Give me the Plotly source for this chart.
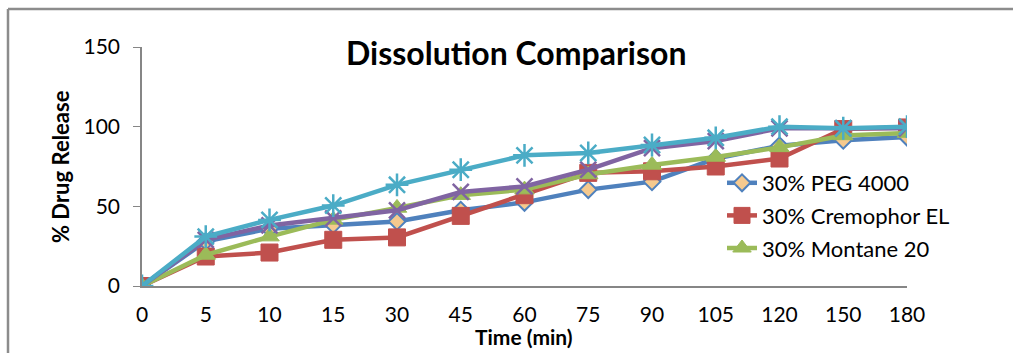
import plotly.graph_objects as go

time_labels = ["0", "5", "10", "15", "30", "45", "60", "75", "90", "105", "120", "150", "180"]
peg4000 = [0, 28, 36, 38.5, 40.5, 47.5, 52.5, 60.5, 65.5, 80, 88, 91.5, 93.5]
cremophor = [0, 18.5, 21, 29, 30.5, 44, 57, 71, 72, 75, 80, 98.5, 99.5]
montane = [0, 19.5, 31, 41.5, 49, 57, 60.5, 70, 76, 81, 87, 94.5, 96]
series4 = [0, 29, 38, 42.5, 47.5, 59, 62.5, 73, 86.5, 91, 99, 99, 99]
series5 = [0, 31, 41.5, 50.5, 63.5, 73, 82, 83.5, 88.5, 93, 100, 99, 100]

W, H = 1013, 353
L, R, T, B = 142, 106, 47, 67
pw, ph = W - L - R, H - T - B

def px(x):
    return (x - L) / pw

def py(y):
    return (H - B - y) / ph

fig = go.Figure()
fig.add_trace(go.Scatter(x=time_labels, y=peg4000, name="30% PEG 4000", mode="lines+markers",
                         legendgroup="a",
                         line=dict(color="#4F81BD", width=4.5),
                         marker=dict(symbol="diamond", size=13, color="#F5C98E",
                                     line=dict(color="#4F81BD", width=2))))
fig.add_trace(go.Scatter(x=time_labels, y=cremophor, name="30% Cremophor EL", mode="lines+markers",
                         legendgroup="b",
                         line=dict(color="#C0504D", width=4.5),
                         marker=dict(symbol="square", size=17, color="#C0504D",
                                     line=dict(color="#C0504D", width=1))))
fig.add_trace(go.Scatter(x=time_labels, y=montane, name="30% Montane 20", mode="lines+markers",
                         legendgroup="c",
                         line=dict(color="#9BBB59", width=4.5),
                         marker=dict(symbol="triangle-up", size=17, color="#9BBB59",
                                     line=dict(color="#9BBB59", width=1))))
fig.add_trace(go.Scatter(x=time_labels, y=series4, name="Series 4", mode="lines+markers",
                         showlegend=False, legendgroup="d",
                         line=dict(color="#8064A2", width=4.5),
                         marker=dict(symbol="x-thin-open", size=16, color="#8064A2",
                                     line=dict(color="#8064A2", width=2.5))))
fig.add_trace(go.Scatter(x=time_labels, y=series5, name="Series 5", mode="lines+markers",
                         showlegend=False, legendgroup="e",
                         line=dict(color="#4BACC6", width=4.5),
                         marker=dict(symbol="asterisk-open", size=19, color="#4BACC6",
                                     line=dict(color="#4BACC6", width=2.5))))

font_family = "Lato, 'Open Sans', sans-serif"

fig.update_layout(
    width=W, height=H,
    margin=dict(l=L, r=R, t=T, b=B),
    paper_bgcolor="white", plot_bgcolor="white",
    font=dict(family=font_family, color="black", size=21),
    showlegend=True,
    legend=dict(x=px(722), y=py(162), xanchor="left", yanchor="top",
                bgcolor="rgba(0,0,0,0)", font=dict(size=22, family=font_family),
                tracegroupgap=1, itemwidth=30),
    xaxis=dict(type="category", range=[0, 12], showline=True, linecolor="#868686",
               linewidth=2, ticks="", showgrid=False, zeroline=False,
               tickfont=dict(size=21), ticklabelstandoff=9),
    yaxis=dict(range=[0, 150], tickvals=[0, 50, 100, 150], showline=True,
               linecolor="#868686", linewidth=1.5, ticks="outside", ticklen=7,
               tickcolor="#868686", showgrid=False, zeroline=False,
               tickfont=dict(size=21), ticklabelstandoff=9),
    annotations=[
        dict(text="<b>Time (min)</b>", x=px(524), y=py(351), xref="paper", yref="paper",
             xanchor="center", yanchor="bottom", showarrow=False,
             font=dict(size=21, family=font_family)),
        dict(text="<b>Dissolution Comparison</b>", x=px(516), y=py(52), xref="paper", yref="paper",
             xanchor="center", yanchor="middle", showarrow=False,
             font=dict(size=32, family=font_family)),
        dict(text="<b>% Drug Release</b>", x=px(60), y=py(167), xref="paper", yref="paper",
             xanchor="center", yanchor="middle", showarrow=False, textangle=-90,
             font=dict(size=22, family=font_family)),
    ],
    shapes=[
        dict(type="line", xref="paper", yref="paper", x0=px(8), x1=px(1020), y0=py(9), y1=py(9),
             line=dict(color="#8C8C8C", width=2.5)),
        dict(type="line", xref="paper", yref="paper", x0=px(8), x1=px(8), y0=py(9), y1=py(360),
             line=dict(color="#8C8C8C", width=2.5)),
    ],
)

fig.write_html("out.html")
